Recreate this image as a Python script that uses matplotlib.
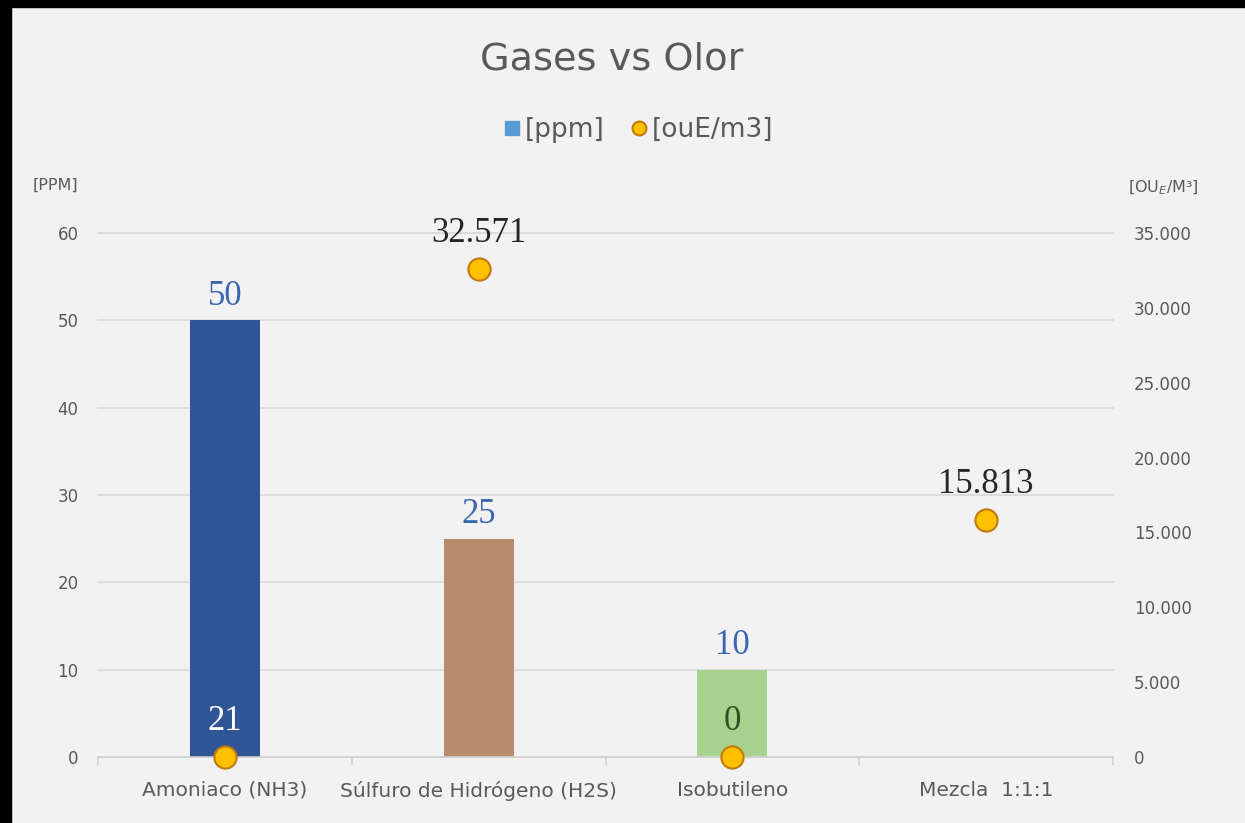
"""
Gases vs Olor: concentración [ppm] (barras) y olor [ouE/m3] (puntos)
"""

import matplotlib
matplotlib.use("Agg")
import matplotlib.pyplot as plt
from matplotlib.patches import Rectangle
from matplotlib.lines import Line2D

# datos
categorias = ["Amoniaco (NH3)", "Súlfuro de Hidrógeno (H2S)", "Isobutileno", "Mezcla  1:1:1"]
ppm = [50, 25, 10, None]
olor = [21, 32571, 0, 15813]

colores_barras = ["#2F5597", "#B98B6E", "#A9D18E"]
colores_etiqueta_olor = ["#FFFFFF", "#262626", "#2E4F1F", "#262626"]

fondo = "#F2F2F2"
gris = "#595959"

matplotlib.rcParams['font.family'] = ['DejaVu Sans']

fig = plt.figure(figsize=(12.45, 8.23), dpi=100, facecolor=fondo)
ax = fig.add_axes([0.0787, 0.0802, 0.8153, 0.6367])
ax.set_facecolor(fondo)
ax2 = ax.twinx()

x = list(range(len(categorias)))

# barras ppm
for i, v in enumerate(ppm):
    if v is None:
        continue
    ax.bar(i, v, width=0.276, color=colores_barras[i], zorder=2)
    ax.annotate(str(v), (i, v), xytext=(0, 11), textcoords="offset points",
                ha="center", va="baseline", fontsize=25, color="#3A66B0",
                family="Liberation Serif")

ax.set_xlim(-0.5, len(categorias) - 0.5)
ax.set_ylim(0, 60)
ax.set_yticks(range(0, 61, 10))
ax.grid(axis="y", color="#D9D9D9", linewidth=1.2, zorder=0)
for g in ax.yaxis.get_gridlines():
    g.set_clip_on(False)
ax.set_axisbelow(True)
for s in ["top", "left", "right"]:
    ax.spines[s].set_visible(False)
ax.spines["bottom"].set_color("#D0D0D0")
ax.spines["bottom"].set_linewidth(1.2)
ax.tick_params(axis="y", length=0, pad=14, labelsize=12, labelcolor=gris)
ax.set_xticks(x)
ax.set_xticklabels(categorias, fontsize=14.5, color=gris)
ax.tick_params(axis="x", which="major", length=0, pad=17)
ax.set_xticks([i - 0.5 for i in range(len(categorias) + 1)], minor=True)
ax.tick_params(axis="x", which="minor", length=6, color="#D0D0D0", width=1.2)

# puntos olor
ax2.plot(x, olor, linestyle="none", marker="o", markersize=16,
         markerfacecolor="#FFC000", markeredgecolor="#C07A10",
         markeredgewidth=1.5, zorder=5, clip_on=False)
for i, v in enumerate(olor):
    txt = f"{v:,.0f}".replace(",", ".")
    ax2.annotate(txt, (i, v), xytext=(0, 19.5), textcoords="offset points",
                 ha="center", va="baseline", fontsize=25,
                 color=colores_etiqueta_olor[i], family="Liberation Serif")

ax2.set_ylim(0, 35000)
ax2.set_yticks(range(0, 35001, 5000))
ax2.set_yticklabels([f"{t:,.0f}".replace(",", ".") for t in range(0, 35001, 5000)])
for s in ax2.spines.values():
    s.set_visible(False)
ax2.tick_params(axis="y", length=0, pad=15, labelsize=12, labelcolor=gris)

# títulos de ejes
fig.text(55 / 1245, 1 - 185 / 823, "[PPM]", ha="center", va="center",
         fontsize=11.5, color=gris)
fig.text(1163 / 1245, 1 - 188 / 823, "[OU$_E$/M³]", ha="center", va="center",
         fontsize=11.5, color=gris)

# título y leyenda
fig.text(612 / 1245, 1 - 60 / 823, "Gases vs Olor", ha="center", va="center",
         fontsize=27.5, color=gris)
handles = [
    Line2D([], [], linestyle="none", marker="s", markersize=10,
           markerfacecolor="#5B9BD5", markeredgecolor="#5B9BD5"),
    Line2D([], [], linestyle="none", marker="o", markersize=10,
           markerfacecolor="#FFC000", markeredgecolor="#C07A10", markeredgewidth=1.5),
]
fig.legend(handles, ["[ppm]", "[ouE/m3]"], loc="center",
           bbox_to_anchor=(636 / 1245, 1 - 130 / 823), ncol=2, frameon=False,
           fontsize=19, labelcolor=gris, handletextpad=0.0, columnspacing=0.8,
           handlelength=1.0)

# marco negro superior e izquierdo
fig.patches.append(Rectangle((0, 1 - 7 / 823), 1, 7 / 823, transform=fig.transFigure,
                             color="black", zorder=10))
fig.patches.append(Rectangle((0, 0), 11 / 1245, 1, transform=fig.transFigure,
                             color="black", zorder=10))

plt.savefig("out.png", dpi=100, facecolor=fondo)
